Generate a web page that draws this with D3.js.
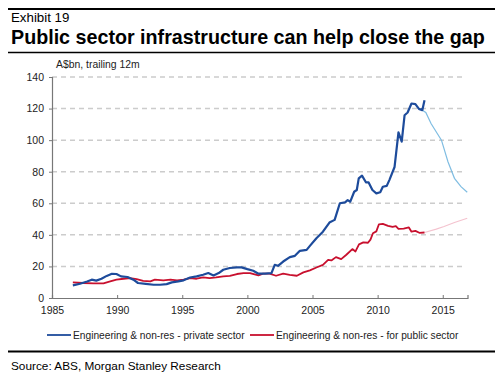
<!DOCTYPE html>
<html>
<head>
<meta charset="utf-8">
<script src="https://cdn.jsdelivr.net/npm/d3@7"></script>
<style>
  body { margin: 0; background: #fff; }
  svg { display: block; font-family: "Liberation Sans", Arial, sans-serif; }
</style>
</head>
<body>
<div id="chart"></div>
<script>
// Data (year as decimal, A$bn)
const privYears = [1986.6, 1987.15, 1987.7, 1988.05, 1988.4, 1988.8, 1989.2, 1989.6, 1989.95, 1990.3, 1990.8, 1991.25, 1991.6, 1992.2, 1992.8, 1993.3, 1993.8, 1994.2, 1994.7, 1995.1, 1995.6, 1996.1, 1996.6, 1997.0, 1997.4, 1997.8, 1998.15, 1998.65, 1999.2, 1999.55, 2000.0, 2000.45, 2000.85, 2001.35, 2001.85, 2002.1, 2002.35, 2002.75, 2003.26, 2003.65, 2004.03, 2004.55, 2004.8, 2005.3, 2005.8, 2006.3, 2006.7, 2007.1, 2007.5, 2007.7, 2007.9, 2008.2, 2008.4, 2008.55, 2008.8, 2009.1, 2009.3, 2009.6, 2009.9, 2010.2, 2010.4, 2010.7, 2010.9, 2011.3, 2011.6, 2011.85, 2012.07, 2012.3, 2012.6, 2012.9, 2013.17, 2013.43, 2013.6];
const privVals = [8, 9, 10.5, 11.6, 11, 12.2, 14, 15.3, 15.2, 13.7, 13.3, 11.6, 9.5, 9, 8.4, 8.4, 8.8, 9.9, 10.5, 11.2, 13, 13.7, 14.7, 15.8, 14.3, 15.8, 17.9, 19, 19.4, 19.4, 18.3, 17.3, 15.4, 15.4, 15.8, 21, 20.4, 23.1, 25.9, 26.7, 29.9, 30.5, 33, 37.9, 42, 47.8, 49.5, 60, 60.6, 62, 61, 67.3, 68.4, 75.8, 77.5, 73.3, 73.3, 68.4, 66.3, 67, 70.5, 71, 74.7, 83, 104.9, 99, 115.8, 117.5, 123.2, 122.8, 119.8, 119, 125.3];

const privFcYears = [2013.43, 2013.7, 2014.1, 2014.9, 2015.4, 2015.9, 2016.4, 2016.88];
const privFcVals = [119, 117.5, 110.5, 100, 86.3, 75.8, 70.5, 67];

const pubYears = [1986.6, 1987.4, 1988.2, 1988.95, 1989.47, 1989.95, 1990.5, 1991.0, 1991.5, 1992.0, 1992.55, 1992.9, 1993.55, 1994.1, 1994.6, 1995.1, 1995.6, 1996.1, 1996.6, 1997.1, 1997.6, 1998.15, 1998.65, 1999.2, 1999.7, 2000.2, 2000.85, 2001.2, 2001.7, 2002.2, 2002.75, 2003.25, 2003.8, 2004.3, 2004.8, 2005.3, 2005.8, 2006.2, 2006.45, 2006.8, 2007.2, 2007.6, 2008.06, 2008.3, 2008.57, 2008.9, 2009.26, 2009.45, 2009.64, 2009.9, 2010.1, 2010.4, 2010.8, 2011.15, 2011.4, 2011.6, 2012.0, 2012.4, 2012.6, 2012.9, 2013.2, 2013.6];
const pubVals = [9.9, 9.5, 9.3, 9.3, 10.5, 11.6, 12.2, 12.6, 12, 10.9, 10.5, 11.6, 11.2, 11.6, 11.2, 11.6, 12.6, 12.2, 13, 12.6, 13, 13.7, 14, 15.2, 15.8, 15.8, 14.3, 15.4, 15.4, 14.1, 15.4, 14.7, 14.1, 16.2, 17.5, 19.3, 21, 24.2, 23.8, 25.9, 24.6, 27.4, 31, 29.5, 34, 35.2, 35, 37, 41, 42.2, 46.7, 47, 45.7, 45, 45.5, 43.8, 44, 44.7, 42, 42.5, 41.3, 41.5];

const pubFcYears = [2013.6, 2014.5, 2015.1, 2015.9, 2016.88];
const pubFcVals = [41.5, 43.6, 45.3, 47.8, 50.5];

const xTicks = [1985, 1990, 1995, 2000, 2005, 2010, 2015];
const yTicks = [0, 20, 40, 60, 80, 100, 120, 140];
const legendLabels = ["Engineering & non-res - private sector", "Engineering & non-res - for public sector"];

const W = 495, H = 377;
const svg = d3.select("#chart").append("svg")
    .attr("width", W)
    .attr("height", H);

svg.append("rect").attr("width", W).attr("height", H).attr("fill", "#fff");

// Header
svg.append("line")
    .attr("x1", 8).attr("x2", W).attr("y1", 9).attr("y2", 9)
    .attr("stroke", "#000").attr("stroke-width", 2);

svg.append("text")
    .attr("x", 11).attr("y", 22)
    .style("font-size", "13.3px")
    .text("Exhibit 19");

svg.append("text")
    .attr("x", 11).attr("y", 44)
    .style("font-size", "19.7px")
    .style("font-weight", "bold")
    .text("Public sector infrastructure can help close the gap");

svg.append("line")
    .attr("x1", 8).attr("x2", W).attr("y1", 52.5).attr("y2", 52.5)
    .attr("stroke", "#000").attr("stroke-width", 1.5);

svg.append("text")
    .attr("x", 56).attr("y", 68)
    .style("font-size", "10.4px")
    .attr("fill", "#222")
    .text("A$bn, trailing 12m");

// Scales
const x = d3.scaleLinear().domain([1985, 2016.9]).range([52, 467.5]);
const y = d3.scaleLinear().domain([0, 140]).range([298, 77]);

// Grid
svg.append("g")
  .selectAll("line")
  .data(yTicks.filter(d => d > 0))
  .join("line")
    .attr("x1", x(1985)).attr("x2", 463)
    .attr("y1", d => y(d)).attr("y2", d => y(d))
    .attr("stroke", "#cccccc")
    .attr("stroke-width", 1.5)
    .attr("stroke-dasharray", "5,4");

// Axes
const yAxis = svg.append("g")
    .attr("transform", `translate(${x(1985)},0)`)
    .call(d3.axisLeft(y).tickValues(yTicks).tickSize(3).tickPadding(5));
const xAxis = svg.append("g")
    .attr("transform", `translate(0,${y(0)})`)
    .call(d3.axisBottom(x).tickValues(xTicks).tickFormat(d3.format("d")).tickSize(-3).tickPadding(9));

[yAxis, xAxis].forEach(g => {
  g.select(".domain").attr("stroke", "#777").attr("stroke-width", 1.2);
  g.selectAll(".tick line").attr("stroke", "#777");
  g.selectAll(".tick text")
    .attr("fill", "#222")
    .style("font-size", "10.5px")
    .style("font-family", "'Liberation Sans', Arial, sans-serif");
});

// Lines
const line = d3.line()
    .x(d => x(d[0]))
    .y(d => y(d[1]));

const zip = (a, b) => a.map((v, i) => [v, b[i]]);

svg.append("path")
    .datum(zip(pubFcYears, pubFcVals))
    .attr("fill", "none")
    .attr("stroke", "#f4c3cf")
    .attr("stroke-width", 1.2)
    .attr("d", line);

svg.append("path")
    .datum(zip(privFcYears, privFcVals))
    .attr("fill", "none")
    .attr("stroke", "#7fbde2")
    .attr("stroke-width", 1.2)
    .attr("d", line);

svg.append("path")
    .datum(zip(pubYears, pubVals))
    .attr("fill", "none")
    .attr("stroke", "#c8102e")
    .attr("stroke-width", 1.8)
    .attr("stroke-linejoin", "round")
    .attr("d", line);

svg.append("path")
    .datum(zip(privYears, privVals))
    .attr("fill", "none")
    .attr("stroke", "#1d4b9b")
    .attr("stroke-width", 2.2)
    .attr("stroke-linejoin", "round")
    .attr("d", line);

// Legend
const legend = [
  { label: legendLabels[0], color: "#1d4b9b", x: 47 },
  { label: legendLabels[1], color: "#c8102e", x: 250 }
];
const lg = svg.append("g").selectAll("g").data(legend).join("g")
    .attr("transform", d => `translate(${d.x},335)`);
lg.append("line")
    .attr("x1", 0).attr("x2", 24)
    .attr("stroke", d => d.color).attr("stroke-width", 1.8);
lg.append("text")
    .attr("x", 26).attr("y", 3.7)
    .style("font-size", "10.2px")
    .attr("fill", "#222")
    .text(d => d.label);

// Footer
svg.append("line")
    .attr("x1", 8).attr("x2", W).attr("y1", 351.5).attr("y2", 351.5)
    .attr("stroke", "#000").attr("stroke-width", 2);

svg.append("text")
    .attr("x", 11).attr("y", 370)
    .style("font-size", "11.8px")
    .text("Source: ABS, Morgan Stanley Research");
</script>
</body>
</html>
